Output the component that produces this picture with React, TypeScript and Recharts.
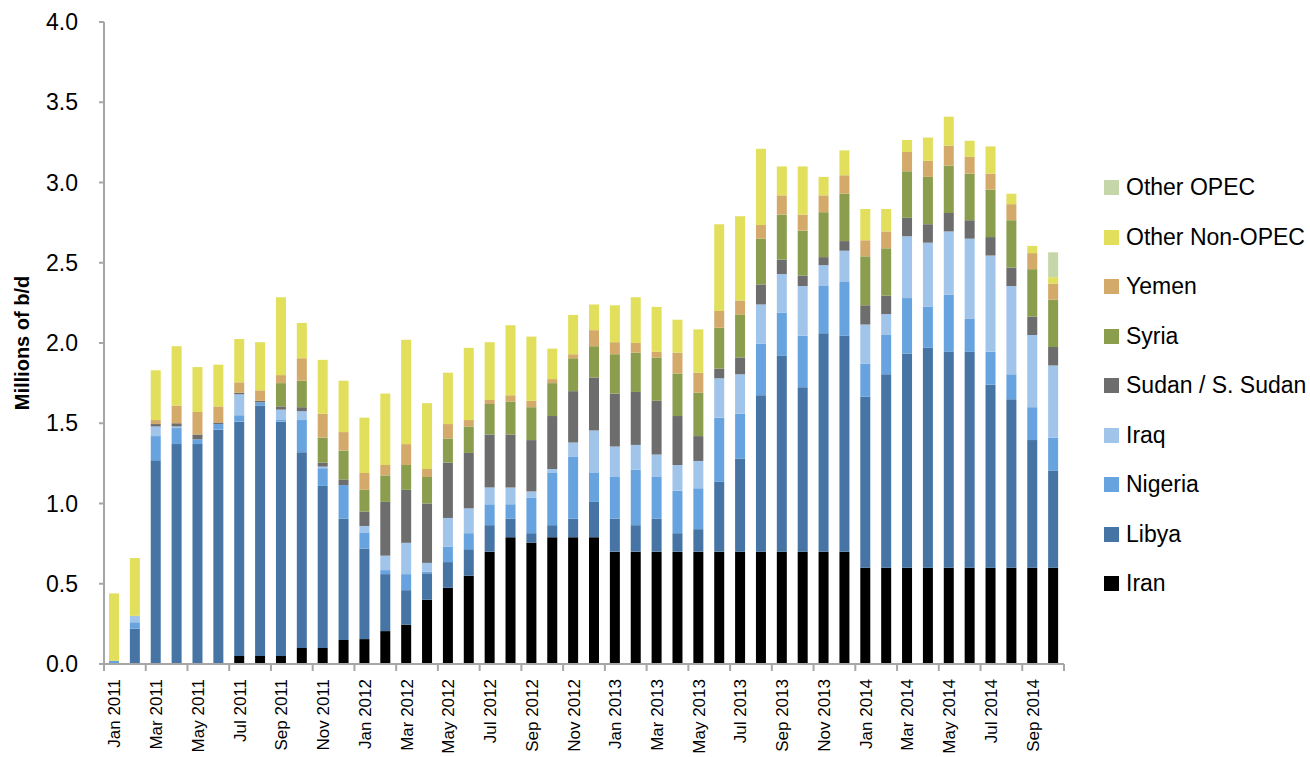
import { BarChart, Bar, XAxis, YAxis, Legend } from 'recharts';

// Monthly outage volumes, millions of barrels per day
const MONTHS = [
  'Jan 2011', 'Feb 2011', 'Mar 2011', 'Apr 2011', 'May 2011', 'Jun 2011',
  'Jul 2011', 'Aug 2011', 'Sep 2011', 'Oct 2011', 'Nov 2011', 'Dec 2011',
  'Jan 2012', 'Feb 2012', 'Mar 2012', 'Apr 2012', 'May 2012', 'Jun 2012',
  'Jul 2012', 'Aug 2012', 'Sep 2012', 'Oct 2012', 'Nov 2012', 'Dec 2012',
  'Jan 2013', 'Feb 2013', 'Mar 2013', 'Apr 2013', 'May 2013', 'Jun 2013',
  'Jul 2013', 'Aug 2013', 'Sep 2013', 'Oct 2013', 'Nov 2013', 'Dec 2013',
  'Jan 2014', 'Feb 2014', 'Mar 2014', 'Apr 2014', 'May 2014', 'Jun 2014',
  'Jul 2014', 'Aug 2014', 'Sep 2014', 'Oct 2014',
];

const IRAN = [
  0, 0, 0, 0, 0, 0, 0.05, 0.05, 0.05, 0.1, 0.1, 0.15,
  0.155, 0.205, 0.245, 0.4, 0.475, 0.55, 0.7, 0.79, 0.755, 0.79, 0.79, 0.79,
  0.7, 0.7, 0.7, 0.7, 0.7, 0.7, 0.7, 0.7, 0.7, 0.7, 0.7, 0.7,
  0.6, 0.6, 0.6, 0.6, 0.6, 0.6, 0.6, 0.6, 0.6, 0.6,
];
const LIBYA = [
  0, 0.22, 1.27, 1.37, 1.37, 1.46, 1.46, 1.56, 1.46, 1.22, 1.01, 0.755,
  0.565, 0.355, 0.215, 0.165, 0.16, 0.165, 0.165, 0.115, 0.06, 0.075, 0.115, 0.22,
  0.205, 0.165, 0.205, 0.115, 0.14, 0.435, 0.58, 0.975, 1.22, 1.025, 1.36, 1.345,
  1.065, 1.205, 1.335, 1.37, 1.345, 1.345, 1.14, 1.05, 0.795, 0.605,
];
const NIGERIA = [
  0.02, 0.04, 0.15, 0.1, 0.03, 0.035, 0.04, 0.02, 0.01, 0.2, 0.11, 0.21,
  0.1, 0.025, 0.1, 0.01, 0.095, 0.1, 0.13, 0.09, 0.22, 0.325, 0.385, 0.18,
  0.26, 0.345, 0.26, 0.265, 0.255, 0.4, 0.28, 0.32, 0.27, 0.32, 0.295, 0.335,
  0.205, 0.245, 0.345, 0.255, 0.355, 0.205, 0.205, 0.155, 0.205, 0.205,
];
const IRAQ = [
  0, 0.04, 0.06, 0.01, 0, 0, 0.13, 0, 0.065, 0.055, 0.01, 0,
  0.04, 0.09, 0.195, 0.055, 0.18, 0.155, 0.105, 0.105, 0.04, 0.025, 0.09, 0.265,
  0.19, 0.155, 0.14, 0.16, 0.17, 0.245, 0.245, 0.245, 0.24, 0.31, 0.13, 0.195,
  0.245, 0.13, 0.385, 0.4, 0.395, 0.5, 0.6, 0.55, 0.45, 0.45,
];
const SUDAN = [
  0, 0, 0.015, 0.02, 0.03, 0.01, 0.01, 0.01, 0.02, 0.025, 0.025, 0.035,
  0.09, 0.335, 0.33, 0.37, 0.345, 0.345, 0.33, 0.33, 0.32, 0.33, 0.32, 0.33,
  0.33, 0.33, 0.335, 0.305, 0.155, 0.06, 0.105, 0.125, 0.09, 0.065, 0.05, 0.06,
  0.12, 0.115, 0.115, 0.115, 0.115, 0.115, 0.115, 0.115, 0.115, 0.115,
];
const SYRIA = [
  0, 0, 0, 0, 0, 0, 0, 0, 0.145, 0.165, 0.155, 0.18,
  0.135, 0.165, 0.155, 0.165, 0.15, 0.165, 0.19, 0.205, 0.205, 0.205, 0.205, 0.195,
  0.245, 0.245, 0.27, 0.265, 0.27, 0.255, 0.265, 0.285, 0.28, 0.28, 0.28, 0.295,
  0.305, 0.295, 0.29, 0.295, 0.295, 0.29, 0.295, 0.295, 0.295, 0.295,
];
const YEMEN = [
  0, 0, 0.025, 0.11, 0.14, 0.1, 0.065, 0.065, 0.05, 0.14, 0.15, 0.115,
  0.105, 0.065, 0.13, 0.05, 0.09, 0.04, 0.025, 0.04, 0.04, 0.025, 0.025, 0.1,
  0.075, 0.06, 0.035, 0.13, 0.125, 0.105, 0.09, 0.085, 0.12, 0.1, 0.105, 0.115,
  0.1, 0.105, 0.12, 0.1, 0.125, 0.105, 0.1, 0.1, 0.1, 0.1,
];
const OTHER_NON_OPEC = [
  0.42, 0.36, 0.31, 0.37, 0.28, 0.26, 0.27, 0.3, 0.485, 0.22, 0.335, 0.32,
  0.345, 0.445, 0.65, 0.41, 0.32, 0.45, 0.36, 0.435, 0.4, 0.19, 0.245, 0.16,
  0.23, 0.285, 0.28, 0.205, 0.27, 0.54, 0.525, 0.475, 0.18, 0.3, 0.115, 0.155,
  0.195, 0.14, 0.075, 0.145, 0.18, 0.1, 0.17, 0.065, 0.045, 0.04,
];
const OTHER_OPEC = [
  0, 0, 0, 0, 0, 0, 0, 0, 0, 0, 0, 0,
  0, 0, 0, 0, 0, 0, 0, 0, 0, 0, 0, 0,
  0, 0, 0, 0, 0, 0, 0, 0, 0, 0, 0, 0,
  0, 0, 0, 0, 0, 0, 0, 0, 0, 0.155,
];

const Y_TICKS = [0, 0.5, 1, 1.5, 2, 2.5, 3, 3.5, 4];

// bottom of the stack first
const SERIES = [
  { key: 'iran', label: 'Iran', color: '#000000', values: IRAN },
  { key: 'libya', label: 'Libya', color: '#4675A5', values: LIBYA },
  { key: 'nigeria', label: 'Nigeria', color: '#67A3DF', values: NIGERIA },
  { key: 'iraq', label: 'Iraq', color: '#A1C4EB', values: IRAQ },
  { key: 'sudan', label: 'Sudan / S. Sudan', color: '#6D6D6D', values: SUDAN },
  { key: 'syria', label: 'Syria', color: '#8A9E4E', values: SYRIA },
  { key: 'yemen', label: 'Yemen', color: '#D4AA6A', values: YEMEN },
  { key: 'otherNonOpec', label: 'Other Non-OPEC', color: '#E1DF5B', values: OTHER_NON_OPEC },
  { key: 'otherOpec', label: 'Other OPEC', color: '#C5D6A8', values: OTHER_OPEC },
];

const data = MONTHS.map((month, i) => {
  const row: Record<string, string | number> = { month };
  SERIES.forEach(s => { row[s.key] = s.values[i]; });
  return row;
});

const W = 1310;
const H = 757;
const M = { top: 22, right: 246, left: 0, bottom: 0 };
const Y_AXIS_W = 104;
const X_AXIS_H = 93;
const BAND = (W - M.right - Y_AXIS_W) / MONTHS.length;
const AXIS_GRAY = '#A6A6A6';
const FONT = '"Liberation Sans", Arial, sans-serif';

function XTick(props: any) {
  const { x, y, payload } = props;
  const i: number = payload?.index ?? props.index ?? 0;
  const edge = x - BAND / 2;
  return (
    <g>
      {i % 2 === 0 && <line x1={edge} x2={edge} y1={y} y2={y + 7} stroke={AXIS_GRAY} strokeWidth={2} />}
      {i === MONTHS.length - 1 && (
        <line x1={x + BAND / 2} x2={x + BAND / 2} y1={y} y2={y + 7} stroke={AXIS_GRAY} strokeWidth={2} />
      )}
      {i % 2 === 0 && (
        <text
          x={x}
          y={y + 15}
          transform={`rotate(-90 ${x} ${y + 15})`}
          textAnchor="end"
          dy="0.35em"
          fontSize={17}
          fontFamily={FONT}
          fill="#000"
        >
          {payload.value}
        </text>
      )}
    </g>
  );
}

function LegendBox() {
  return (
    <div style={{ fontFamily: FONT, fontSize: 23, color: '#000' }}>
      {[...SERIES].reverse().map(s => (
        <div key={s.key} style={{ display: 'flex', alignItems: 'center', height: 49.5 }}>
          <span style={{ width: 15, height: 15, background: s.color, marginRight: 7, flexShrink: 0 }} />
          <span style={{ whiteSpace: 'nowrap' }}>{s.label}</span>
        </div>
      ))}
    </div>
  );
}

export default function App() {
  return (
    <div style={{ position: 'absolute', left: 0, top: 0, width: W, height: H, background: '#fff' }}>
      <BarChart width={W} height={H} data={data} margin={M} style={{ fontFamily: FONT }}>
        <XAxis
          dataKey="month"
          interval={0}
          height={X_AXIS_H}
          tickSize={0}
          tickMargin={0}
          tickLine={false}
          axisLine={{ stroke: AXIS_GRAY, strokeWidth: 2 }}
          tick={(p: any) => <XTick {...p} />}
        />
        <YAxis
          width={Y_AXIS_W}
          domain={[0, 4]}
          ticks={Y_TICKS}
          interval={0}
          tickFormatter={(v: number) => v.toFixed(1)}
          tick={{ fontSize: 23, fill: '#000', fontFamily: FONT }}
          tickSize={5}
          tickMargin={21}
          tickLine={{ stroke: AXIS_GRAY, strokeWidth: 2 }}
          axisLine={{ stroke: AXIS_GRAY, strokeWidth: 2 }}
          label={{
            content: (p: any) => {
              const vb = p.viewBox || {};
              const cx = 22;
              const cy = (vb.y ?? 0) + (vb.height ?? 0) / 2;
              return (
                <text
                  x={cx}
                  y={cy}
                  transform={`rotate(-90 ${cx} ${cy})`}
                  textAnchor="middle"
                  dy="0.35em"
                  fontSize={20}
                  fontWeight="bold"
                  fontFamily={FONT}
                  fill="#000"
                >
                  Millions of b/d
                </text>
              );
            },
          }}
        />
        <Legend
          layout="vertical"
          align="center"
          verticalAlign="middle"
          content={() => <LegendBox />}
          wrapperStyle={{ left: 1104, top: 163, width: 206, height: 446 }}
        />
        {SERIES.map(s => (
          <Bar
            key={s.key}
            dataKey={s.key}
            name={s.label}
            stackId="outages"
            fill={s.color}
            barSize={10}
            isAnimationActive={false}
          />
        ))}
      </BarChart>
    </div>
  );
}
